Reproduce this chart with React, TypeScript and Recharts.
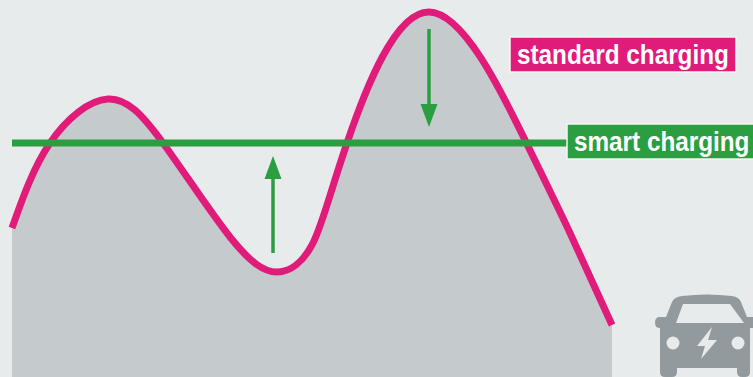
import { Area, ComposedChart, Line, ReferenceDot, ReferenceLine, XAxis, YAxis } from "recharts";

const WIDTH = 753;
const HEIGHT = 377;

// demand over the day (x position, load)
const hours = [12, 50, 108, 163, 230, 277, 313, 347, 429, 525, 570, 612];
const standardLoad = [149, 234, 278, 234, 140, 105, 134, 234, 365, 237, 144, 52];
const smartHours = [12, 570];
const smartLoad = [234, 234];

const standardData = hours.map((x, i) => ({ x, load: standardLoad[i] }));
const smartData = smartHours.map((x, i) => ({ x, load: smartLoad[i] }));

const GREEN = "#2a9e40";
const PINK = "#e11b7a";
const BACKGROUND = "#e7ebec";

const UpArrow = ({ cx, cy }: any) => <path d={`M${cx} ${cy} l-8.5 23 h17 z`} fill={GREEN} />;
const DownArrow = ({ cx, cy }: any) => <path d={`M${cx} ${cy} l-8.5 -23 h17 z`} fill={GREEN} />;

const Tag = ({ cx, cy, w, textX, color, text }: any) => (
  <g>
    <rect x={cx} y={cy - 17.5} width={w} height={35} fill={color} stroke="#f4f6f6" strokeWidth={1.5} />
    <text
      transform={`translate(${textX} ${cy + 9}) scale(0.9 1)`}
      fill="#fff"
      fontFamily="'Liberation Sans'"
      fontWeight="bold"
      fontSize={27}
    >
      {text}
    </text>
  </g>
);

const Car = ({ cx, cy }: any) => (
  <g transform={`translate(${cx} ${cy})`}>
    <path
      d="M32 22 Q34 17 42 16 Q67 13 92 16 Q99 17 101 22 L107 37 L113 37 L113 48 L110 48 L110 92 Q110 97 105 97 L102 97 Q97 97 97 92 L97 88 L37 88 L37 92 Q37 97 32 97 L25 97 Q20 97 20 92 L20 48 Q15 48 15 42.5 Q15 37 20 37 L26 37 Z"
      fill="#929a9e"
    />
    <path d="M43 24 L90 24 L104 43 L36 43 Z" fill={BACKGROUND} />
    <circle cx={33} cy={63} r={6.5} fill={BACKGROUND} />
    <circle cx={98} cy={63} r={6.5} fill={BACKGROUND} />
    <path d="M72 47 L57 66 L65 66 L61 79 L77 60 L68 60 Z" fill={BACKGROUND} />
  </g>
);

export default function App() {
  return (
    <div style={{ position: "absolute", left: 0, top: 0, width: WIDTH, height: HEIGHT, background: BACKGROUND, overflow: "hidden" }}>
      <ComposedChart width={WIDTH} height={HEIGHT} margin={{ top: 0, right: 0, bottom: 0, left: 0 }}>
        <XAxis hide type="number" dataKey="x" domain={[0, WIDTH]} />
        <YAxis hide type="number" domain={[0, HEIGHT]} />
        <Area
          data={standardData}
          dataKey="load"
          type="natural"
          fill="#c5cacd"
          fillOpacity={1}
          stroke={PINK}
          strokeWidth={7}
          dot={false}
          activeDot={false}
          isAnimationActive={false}
        />
        <Line
          data={smartData}
          dataKey="load"
          stroke={GREEN}
          strokeWidth={7}
          dot={false}
          activeDot={false}
          isAnimationActive={false}
        />
        <ReferenceLine segment={[{ x: 273, y: 124 }, { x: 273, y: 198 }]} stroke={GREEN} strokeWidth={3.5} />
        <ReferenceLine segment={[{ x: 429, y: 348 }, { x: 429, y: 273 }]} stroke={GREEN} strokeWidth={3.5} />
        <ReferenceDot x={273} y={221} shape={<UpArrow />} />
        <ReferenceDot x={429} y={250} shape={<DownArrow />} />
        <ReferenceDot x={510} y={322.5} shape={<Tag w={226} textX={517} color={PINK} text="standard charging" />} />
        <ReferenceDot x={567} y={235.5} shape={<Tag w={200} textX={574} color={GREEN} text="smart charging" />} />
        <ReferenceDot x={640} y={97} shape={<Car />} />
      </ComposedChart>
    </div>
  );
}
